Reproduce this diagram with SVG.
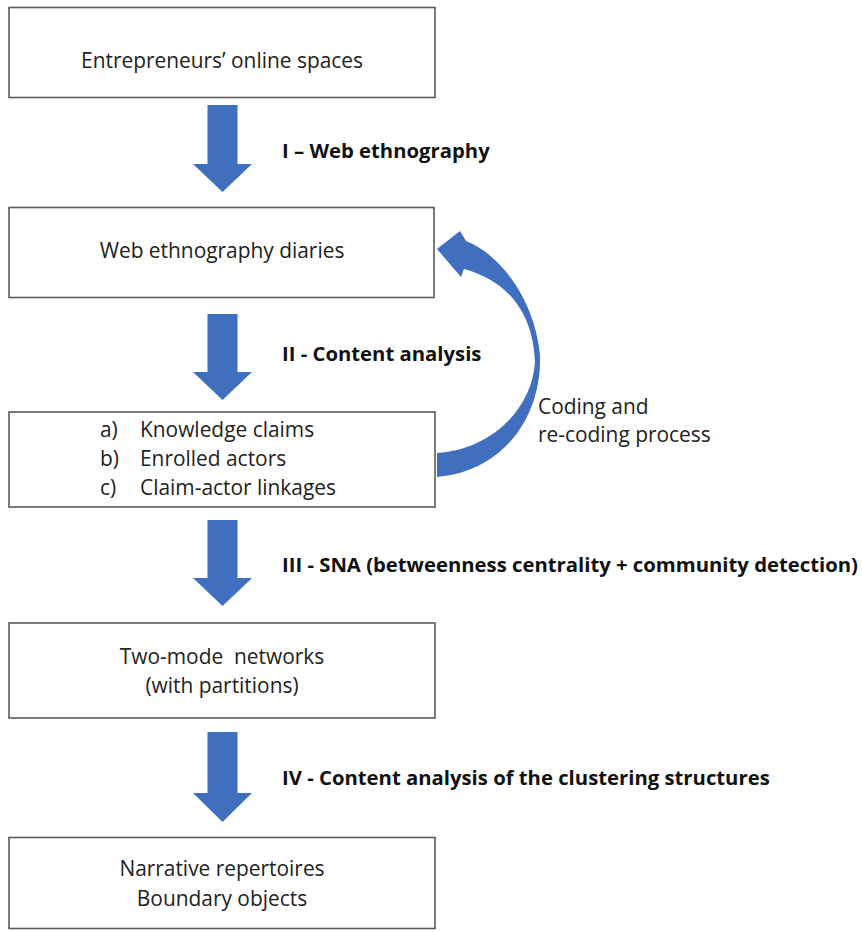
<svg xmlns="http://www.w3.org/2000/svg" width="862" height="932" viewBox="0 0 862 932">
<defs>
<style>
.box{fill:#ffffff;stroke:#5a5a5a;stroke-width:1.6}
.t{font-family:"Open Sans","Liberation Sans",sans-serif;font-size:20.9px;fill:#222222}
.c{text-anchor:middle}
.lbl{font-family:"Open Sans","Liberation Sans",sans-serif;font-size:20.3px;font-weight:bold;fill:#111111}
.arr{fill:#3f6fbe}
</style>
</defs>
<rect width="862" height="932" fill="#ffffff"/>
<g id="connectors">
<path class="arr" d="M207.5,105 H237.5 V164 H252 L222.5,192 L193,164 H207.5 Z"/>
<path class="arr" d="M207.5,314 H237.5 V372 H252 L222.5,400 L193,372 H207.5 Z"/>
<path class="arr" d="M207.5,520 H237.5 V578 H252 L222.5,606 L193,578 H207.5 Z"/>
<path class="arr" d="M207.5,732 H237.5 V793 H252 L222.5,822 L193,793 H207.5 Z"/>
<path class="arr" d="M437,249 L460,231 L466,241 C500,254 535,300 540,355 C542,420 500,472 437,477 L437,453 C490,450 532,410 535,362 C533,310 505,280 464,269 L461,277 Z"/>
</g>
<g id="label-1"><text class="lbl" x="282" y="158">I – Web ethnography</text></g>
<g id="label-2"><text class="lbl" x="282" y="361">II - Content analysis</text></g>
<g id="label-3"><text class="lbl" x="282" y="572">III - SNA (betweenness centrality + community detection)</text></g>
<g id="label-4"><text class="lbl" x="282" y="785">IV - Content analysis of the clustering structures</text></g>
<g id="label-coding"><text class="t" x="538" y="414">Coding and</text><text class="t" x="538" y="442">re-coding process</text></g>
<g id="node-1"><rect class="box" x="9" y="7.5" width="426" height="90"/><text class="t c" x="222" y="68">Entrepreneurs’ online spaces</text></g>
<g id="node-2"><rect class="box" x="9" y="207.5" width="425" height="90"/><text class="t c" x="222" y="258">Web ethnography diaries</text></g>
<g id="node-3"><rect class="box" x="9" y="412" width="426" height="95"/>
<text class="t" x="100" y="437">a)</text><text class="t" x="140" y="437">Knowledge claims</text>
<text class="t" x="100" y="466">b)</text><text class="t" x="140" y="466">Enrolled actors</text>
<text class="t" x="100" y="495">c)</text><text class="t" x="140" y="495">Claim-actor linkages</text></g>
<g id="node-4"><rect class="box" x="9" y="623" width="426" height="95"/><text class="t c" x="222" y="664" xml:space="preserve">Two-mode  networks</text><text class="t c" x="222" y="693">(with partitions)</text></g>
<g id="node-5"><rect class="box" x="9" y="837.5" width="426" height="91"/><text class="t c" x="222" y="876">Narrative repertoires</text><text class="t c" x="222" y="906">Boundary objects</text></g>
</svg>
